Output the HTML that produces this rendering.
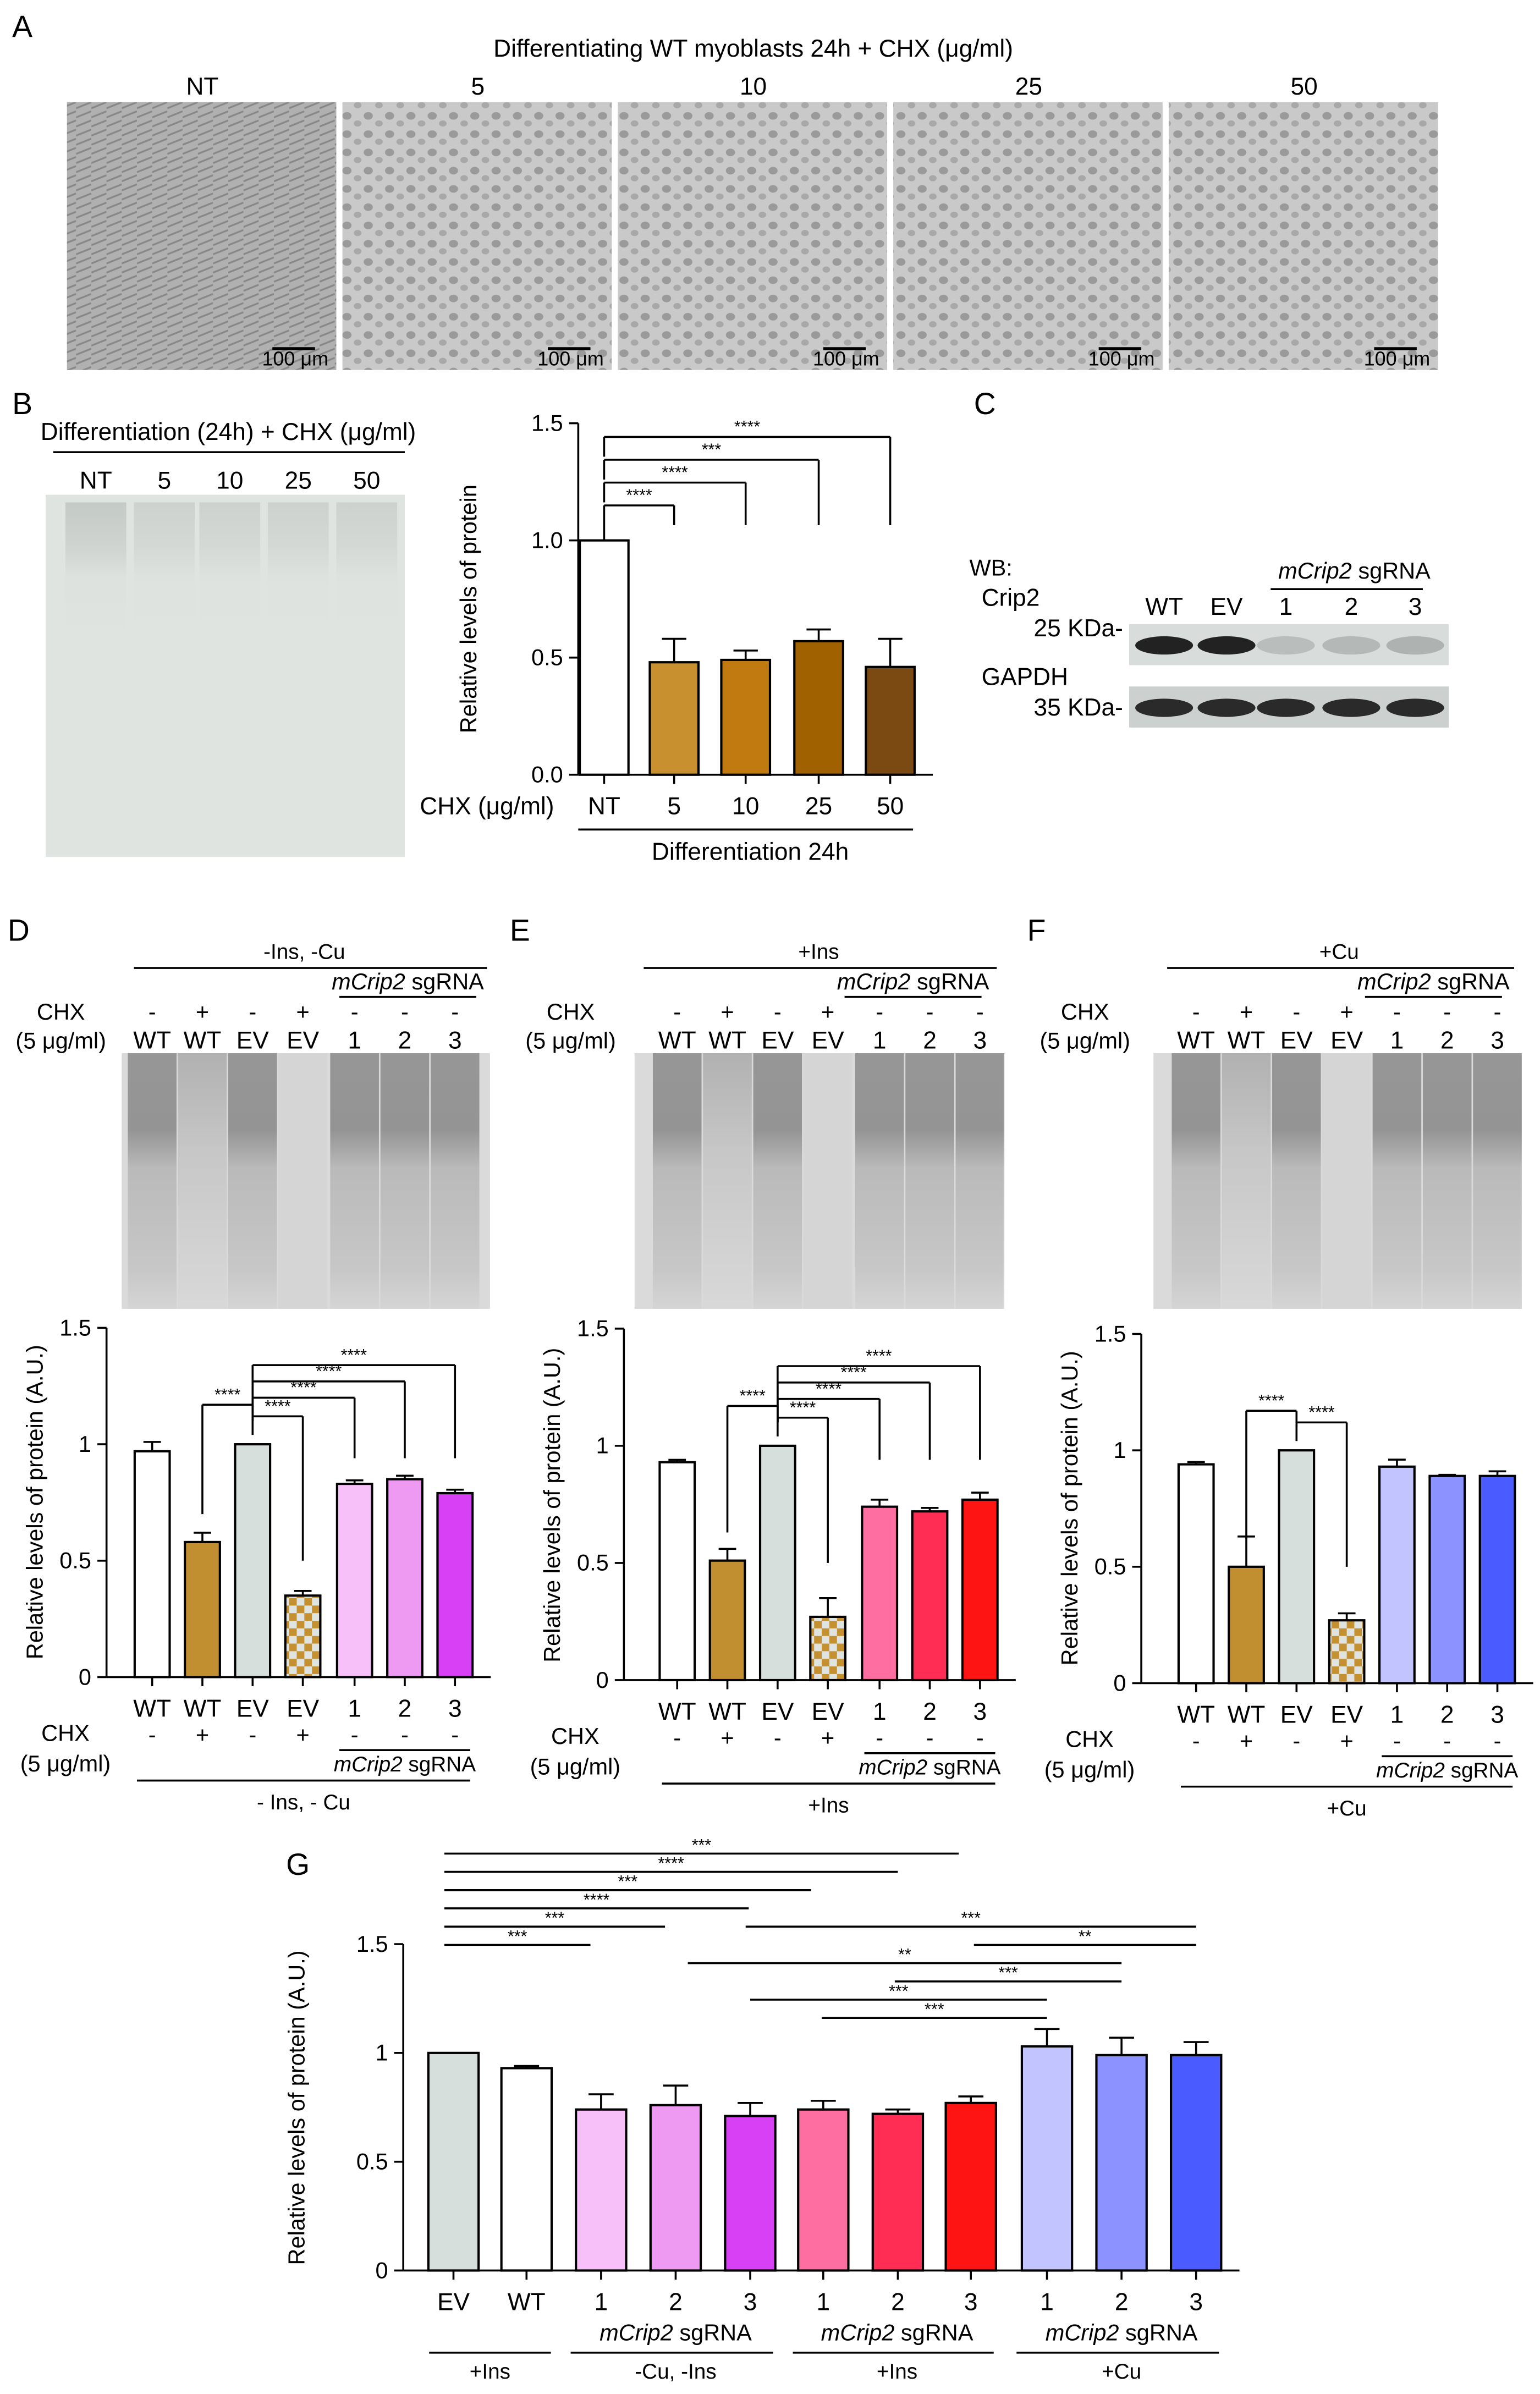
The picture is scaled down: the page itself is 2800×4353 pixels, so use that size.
<!DOCTYPE html>
<html><head><meta charset="utf-8"><style>
html,body{margin:0;padding:0;background:#fff}
svg{display:block}
text{font-family:"Liberation Sans",Arial,sans-serif;fill:#000}
</style></head><body>
<svg id="s" width="2800" height="4353" viewBox="0 0 1012 1573" xmlns="http://www.w3.org/2000/svg">
<defs>
<pattern id="chk" width="10" height="10" patternUnits="userSpaceOnUse"><rect width="10" height="10" fill="#e0e4e0"/><rect width="5" height="5" fill="#c49030"/><rect x="5" y="5" width="5" height="5" fill="#c49030"/></pattern>
<pattern id="cells" width="14" height="12" patternUnits="userSpaceOnUse"><rect width="14" height="12" fill="#c9c9c9"/><ellipse cx="4" cy="4" rx="3" ry="2.5" fill="#9a9a9a"/><ellipse cx="11" cy="9" rx="2.5" ry="2" fill="#a8a8a8"/></pattern>
<pattern id="cellsNT" width="10" height="6" patternUnits="userSpaceOnUse"><rect width="10" height="6" fill="#b0b0b0"/><line x1="0" y1="5" x2="10" y2="1" stroke="#888" stroke-width="1.2"/></pattern>
<linearGradient id="lane" x1="0" y1="0" x2="0" y2="1"><stop offset="0" stop-color="#8a8a8a"/><stop offset="0.3" stop-color="#888"/><stop offset="0.45" stop-color="#b4b4b4"/><stop offset="0.85" stop-color="#c4c4c4"/><stop offset="1" stop-color="#d4d4d4"/></linearGradient>
<linearGradient id="laneL" x1="0" y1="0" x2="0" y2="1"><stop offset="0" stop-color="#aaa"/><stop offset="0.4" stop-color="#c4c4c4"/><stop offset="1" stop-color="#d8d8d8"/></linearGradient>
<linearGradient id="laneB" x1="0" y1="0" x2="0" y2="1"><stop offset="0" stop-color="#c4cac6"/><stop offset="0.3" stop-color="#cfd4d0"/><stop offset="0.5" stop-color="#dde2de"/><stop offset="1" stop-color="#e0e4e1"/></linearGradient>
</defs>
<g id="g"></g>
</svg>
<script>
const g=document.getElementById('g');let h='';
function T(x,y,s,sz=15,a='middle',extra=''){h+=`<text x="${x}" y="${y}" font-size="${sz}" text-anchor="${a}" ${extra}>${s}</text>`;}
function L(x1,y1,x2,y2,w=1.3){h+=`<line x1="${x1}" y1="${y1}" x2="${x2}" y2="${y2}" stroke="#000" stroke-width="${w}"/>`;}
function R(x,y,w,hh,f,st=''){h+=`<rect x="${x}" y="${y}" width="${w}" height="${hh}" fill="${f}" ${st}/>`;}
// A
T(8,24,'A',20,'start');
T(495,37,'Differentiating WT myoblasts 24h + CHX (μg/ml)',16);
const ax=[44,225,406,587,768],al=['NT','5','10','25','50'];
ax.forEach((x,i)=>{T(x+89,62,al[i],16);R(x,67,177,176,i==0?'url(#cellsNT)':'url(#cells)');L(x+135,229,x+163,229,2);T(x+150,240,'100 μm',13);});
// B gel
T(8,272,'B',20,'start');
T(150,289,'Differentiation (24h) + CHX (μg/ml)',16);L(35,297,266,297);
[['NT',63],['5',108],['10',151],['25',196],['50',241]].forEach(a=>T(a[1],321,a[0],16));
R(30,325,236,238,'#e0e4e1');
[63,108,151,196,241].forEach((x,i)=>R(x-20,330,40,100,'url(#laneB)', i==0?'':'opacity="0.7"'));
// B chart
function chart(o){
 const {x0,y0,u,ticks,bars,w,sig,fmt}=o;
 L(x0,y0,x0,y0-1.5*u);
 ticks.forEach(t=>{const y=y0-t*u;L(x0-6,y,x0,y);T(x0-10,y+5,fmt?fmt(t):String(t),15,'end');});
 L(x0,y0,bars[bars.length-1].x+w/2+12,y0);
 bars.forEach(b=>{const top=y0-b.v*u;if(b.e){L(b.x,top,b.x,top-b.e*u);L(b.x-w/4,top-b.e*u,b.x+w/4,top-b.e*u);}
  R(b.x-w/2,top,w,b.v*u,b.c,'stroke="#000" stroke-width="1.5"');L(b.x,y0,b.x,y0+6);});
 (sig||[]).forEach(s=>{const y=s.y;L(s.a,s.ya,s.a,y);L(s.a,y,s.b,y);L(s.b,y,s.b,s.yb);T((s.a+s.b)/2+(s.off||0),y-3,s.t,11);});
}
T(640,272,'C',20,'start');
chart({x0:380,y0:509,u:154,w:32,ticks:[0,0.5,1,1.5],fmt:t=>t.toFixed(1),bars:[
 {x:397,v:1,c:'#fff'},{x:443,v:0.48,e:0.1,c:'#c8902e'},{x:490,v:0.49,e:0.04,c:'#c07a10'},{x:538,v:0.57,e:0.05,c:'#a06200'},{x:585,v:0.46,e:0.12,c:'#7a4a12'}],
 sig:[{a:397,ya:355,b:443,yb:345,y:332,t:'****'},{a:397,ya:330,b:490,yb:345,y:317,t:'****'},{a:397,ya:315,b:538,yb:345,y:302,t:'***'},{a:397,ya:300,b:585,yb:345,y:287,t:'****'}]});
T(320,535,'CHX (μg/ml)',16,'middle');
[['NT',397],['5',443],['10',490],['25',538],['50',585]].forEach(a=>T(a[1],535,a[0],16));
L(380,545,600,545);T(493,565,'Differentiation 24h',16);
T(313,400,'Relative levels of protein',15,'middle','transform="rotate(-90 313 400)"');
// C blot
T(637,378,'WB:',15,'start');T(645,398,'Crip2',16,'start');T(738,418,'25 KDa-',16,'end');
T(645,450,'GAPDH',16,'start');T(738,470,'35 KDa-',16,'end');
T(890,380,'<tspan font-style="italic">mCrip2</tspan> sgRNA',15);L(835,387,935,387);
[['WT',765],['EV',806],['1',845],['2',888],['3',930]].forEach(a=>T(a[1],404,a[0],16));
R(742,410,210,27,'#d8dcda');R(742,451,210,27,'#ccd0ce');
[[765,'#222'],[806,'#222'],[845,'#b9bdbb'],[888,'#b4b8b6'],[930,'#aeb2b0']].forEach(a=>{h+=`<ellipse cx="${a[0]}" cy="424" rx="19" ry="6" fill="${a[1]}"/>`;h+=`<ellipse cx="${a[0]}" cy="465" rx="19" ry="6" fill="#2a2a2a"/>`;});
// D/E/F
function panel(o){
 const {lab,lx,x0,bx,title,y0,u,vals,errs,cols,gx,sig}=o;
 T(lx,618,lab,20,'start');
 T(o.tx,630,title,14);L(o.l1,636,o.l2,636);
 T(o.sgx,650,'<tspan font-style="italic">mCrip2</tspan> sgRNA',15);L(o.sgx-45,655,o.sgx+45,655);
 T(o.chx,670,'CHX',15);T(o.chx,689,'(5 μg/ml)',15);
 const sg=['-','+','-','+','-','-','-'],nm=['WT','WT','EV','EV','1','2','3'];
 bx.forEach((x,i)=>{T(x,670,sg[i],15);T(x,689,nm[i],16);});
 R(gx,692,242,168,'#dadada');
 bx.forEach((x,i)=>R(x-16,692,32,168,(i==1||i==3)?(i==3?'#d4d4d4':'url(#laneL)'):'url(#lane)', 'opacity="0.85"'));
 const bars=bx.map((x,i)=>({x,v:vals[i],e:errs[i],c:cols[i]}));
 chart({x0,y0,u,w:23,ticks:[0,0.5,1,1.5],bars,sig});
 T(x0-42,y0-115,'Relative levels of protein (A.U.)',15,'middle',`transform="rotate(-90 ${x0-42} ${y0-115})"`);
 bx.forEach((x,i)=>{T(x,y0+26,nm[i],16);T(x,y0+43,sg[i],15);});
 T(o.chx+3,y0+42,'CHX',15);T(o.chx+3,y0+62,'(5 μg/ml)',15);
 L(bx[4]-10,y0+48,bx[6]+10,y0+48);
 T(bx[5],y0+62,'<tspan font-style="italic">mCrip2</tspan> sgRNA',14);
 L(bx[0]-10,y0+68,bx[6]+10,y0+68);T((bx[0]+bx[6])/2,y0+87,o.bt,14);
}
function mk(x0,y0,u,bx,vals){
 return [{a:bx[1],ya:y0-(vals[1]+0.12)*u,b:bx[2],yb:y0-1.04*u,y:y0-1.17*u,t:'****'},
 {a:bx[2],ya:y0-1.1*u,b:bx[3],yb:y0-0.5*u,y:y0-1.12*u,t:'****'},
 {a:bx[2],ya:y0-1.1*u,b:bx[4],yb:y0-0.94*u,y:y0-1.2*u,t:'****'},
 {a:bx[2],ya:y0-1.1*u,b:bx[5],yb:y0-0.94*u,y:y0-1.27*u,t:'****'},
 {a:bx[2],ya:y0-1.1*u,b:bx[6],yb:y0-0.94*u,y:y0-1.34*u,t:'****'}];}
let bD=[100,133,166,199,233,266,299],vD=[0.97,0.58,1,0.35,0.83,0.85,0.79];
panel({lab:'D',lx:5,x0:70,bx:bD,gx:80,tx:200,title:'-Ins, -Cu',l1:88,l2:320,sgx:268,chx:40,y0:1102,u:153,vals:vD,errs:[0.04,0.04,0,0.02,0.015,0.015,0.015],
 cols:['#fff','#c28f30','#d6dfdc','url(#chk)','#f8c0f8','#ee99f2','#d840f6'],sig:mk(70,1102,153,bD,vD),bt:'- Ins, - Cu'});
let bE=[445,478,511,544,578,611,644],vE=[0.93,0.51,1,0.27,0.74,0.72,0.77];
panel({lab:'E',lx:335,x0:410,bx:bE,gx:417,tx:538,title:'+Ins',l1:423,l2:655,sgx:600,chx:375,y0:1104,u:154,vals:vE,errs:[0.01,0.05,0,0.08,0.03,0.015,0.03],
 cols:['#fff','#c28f30','#d6dfdc','url(#chk)','#ff6ea0','#ff2c54','#ff1414'],sig:mk(410,1104,154,bE,vE),bt:'+Ins'});
let bF=[786,819,852,885,918,951,984],vF=[0.94,0.5,1,0.27,0.93,0.89,0.89];
let sF=mk(750,1106,153,bF,vF).slice(0,2);
panel({lab:'F',lx:675,x0:750,bx:bF,gx:758,tx:880,title:'+Cu',l1:767,l2:995,sgx:942,chx:713,y0:1106,u:153,vals:vF,errs:[0.01,0.13,0,0.03,0.03,0.005,0.02],
 cols:['#fff','#c28f30','#d6dfdc','url(#chk)','#c2c4ff','#8c92ff','#4a5cff'],sig:sF,bt:'+Cu'});
// G
T(188,1232,'G',20,'start');
const gx=[298,346,395,444,493,541,590,638,688,737,786],gv=[1,0.93,0.74,0.76,0.71,0.74,0.72,0.77,1.03,0.99,0.99],ge=[0,0.01,0.07,0.09,0.06,0.04,0.02,0.03,0.08,0.08,0.06];
const gc=['#d6dfdc','#fff','#f8c0f8','#ee99f2','#d840f6','#ff6ea0','#ff2c54','#ff1414','#c2c4ff','#8c92ff','#4a5cff'];
chart({x0:265,y0:1492,u:143,w:33,ticks:[0,0.5,1,1.5],fmt:t=>t==1?'1':t==0?'0':String(t),bars:gx.map((x,i)=>({x,v:gv[i],e:ge[i],c:gc[i]}))});
T(200,1385,'Relative levels of protein (A.U.)',15,'middle','transform="rotate(-90 200 1385)"');
['EV','WT','1','2','3','1','2','3','1','2','3'].forEach((s,i)=>T(gx[i],1518,s,16));
[[395,493,'-Cu, -Ins'],[541,638,'+Ins'],[688,786,'+Cu']].forEach(a=>{T((a[0]+a[1])/2,1538,'<tspan font-style="italic">mCrip2</tspan> sgRNA',15);L(a[0]-20,1546,a[1]+15,1546);T((a[0]+a[1])/2,1563,a[2],14);});
L(282,1546,362,1546);T(322,1563,'+Ins',14);
[[388,1278,'***'],[437,1266,'***'],[492,1254,'****'],[533,1242,'***'],[590,1230,'****'],[630,1218,'***']].forEach(a=>{L(292,a[1],a[0],a[1]);T(340+(a[0]-388)/2,a[1]-2,a[2],11);});
[[490,786,1266,'***'],[640,786,1278,'**'],[452,737,1290,'**'],[588,737,1302,'***'],[493,688,1314,'***'],[540,688,1326,'***']].forEach(a=>{L(a[0],a[2],a[1],a[2]);T((a[0]+a[1])/2,a[2]-2,a[3],11);});
g.innerHTML=h;
</script>
</body></html>
